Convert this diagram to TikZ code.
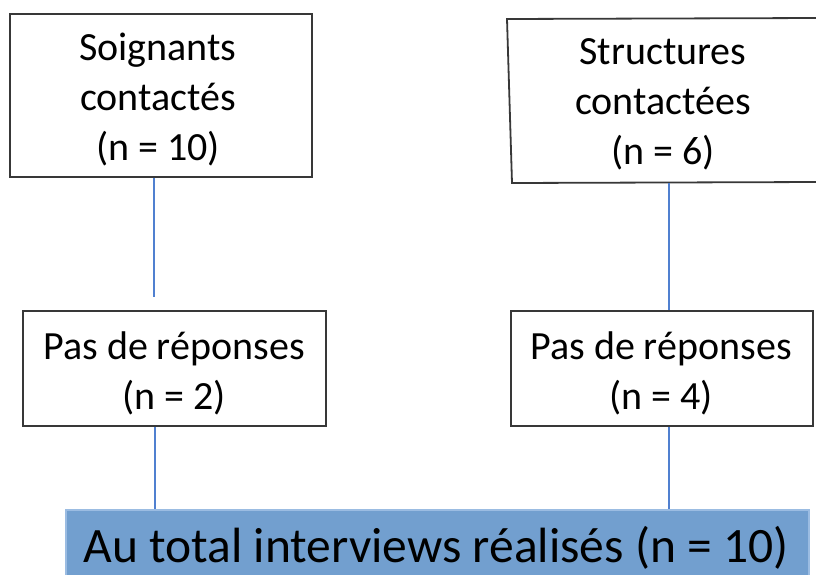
\documentclass[tikz,border=0pt]{standalone}
\usepackage{fontspec}
\setmainfont{Carlito}
\definecolor{finalblue}{HTML}{729FCF}
\definecolor{finalborder}{HTML}{9BBCE2}
\definecolor{linkblue}{HTML}{5080D0}
\begin{document}
\begin{tikzpicture}[x=1pt,y=-1pt,
  boxline/.style={draw=black!78,line width=1.8pt},
  framebox/.style={boxline,rectangle,inner sep=0pt},
  boxtext/.style={align=center,font=\fontsize{40}{50}\selectfont,inner sep=0pt},
  link/.style={draw=linkblue,line width=1.2pt},
  finalbox/.style={fill=finalblue,draw=finalborder,line width=1.2pt,rectangle,inner sep=0pt}]
\useasboundingbox (0,0) rectangle (816,575);

% upper boxes
\node[framebox,minimum width=302pt,minimum height=163pt] (soign) at (161,95.5) {};
\node[boxtext] (soigntxt) at (158,100) {Soignants\\contactés\\(n = 10)};
\draw[boxline] (507,19) -- (820,18) -- (820,182) -- (512,183) -- cycle;
\coordinate (struct) at (669,183);
\node[boxtext] (structtxt) at (663,104) {Structures\\contactées\\(n = 6)};

% no-answer boxes
\node[framebox,minimum width=303pt,minimum height=115pt] (nr1) at (174.5,368.5) {};
\node[boxtext] (nr1txt) at (174,373) {Pas de réponses\\(n = 2)};
\node[framebox,minimum width=302pt,minimum height=115pt] (nr2) at (662,368.5) {};
\node[boxtext] (nr2txt) at (661,373) {Pas de réponses\\(n = 4)};

% total
\node[finalbox,minimum width=743pt,minimum height=80pt] (total) at (437.5,550) {};
\node[font=\fontsize{49.5}{56}\selectfont,inner sep=0pt,anchor=base] (totaltxt) at (436,562) {Au total interviews réalisés (n = 10)};

% connectors
\coordinate (s1) at ([xshift=-7pt]soign.south);
\coordinate (gap) at (154,297);
\coordinate (n1) at ([xshift=-19.5pt]nr1.south);
\coordinate (n2) at ([xshift=7pt]nr2.south);
\draw[link] (s1) -- (gap);
\draw[link] (n1) -- (n1 |- total.north);
\draw[link] (struct) -- (struct |- nr2.north);
\draw[link] (n2) -- (n2 |- total.north);
\end{tikzpicture}
\end{document}
